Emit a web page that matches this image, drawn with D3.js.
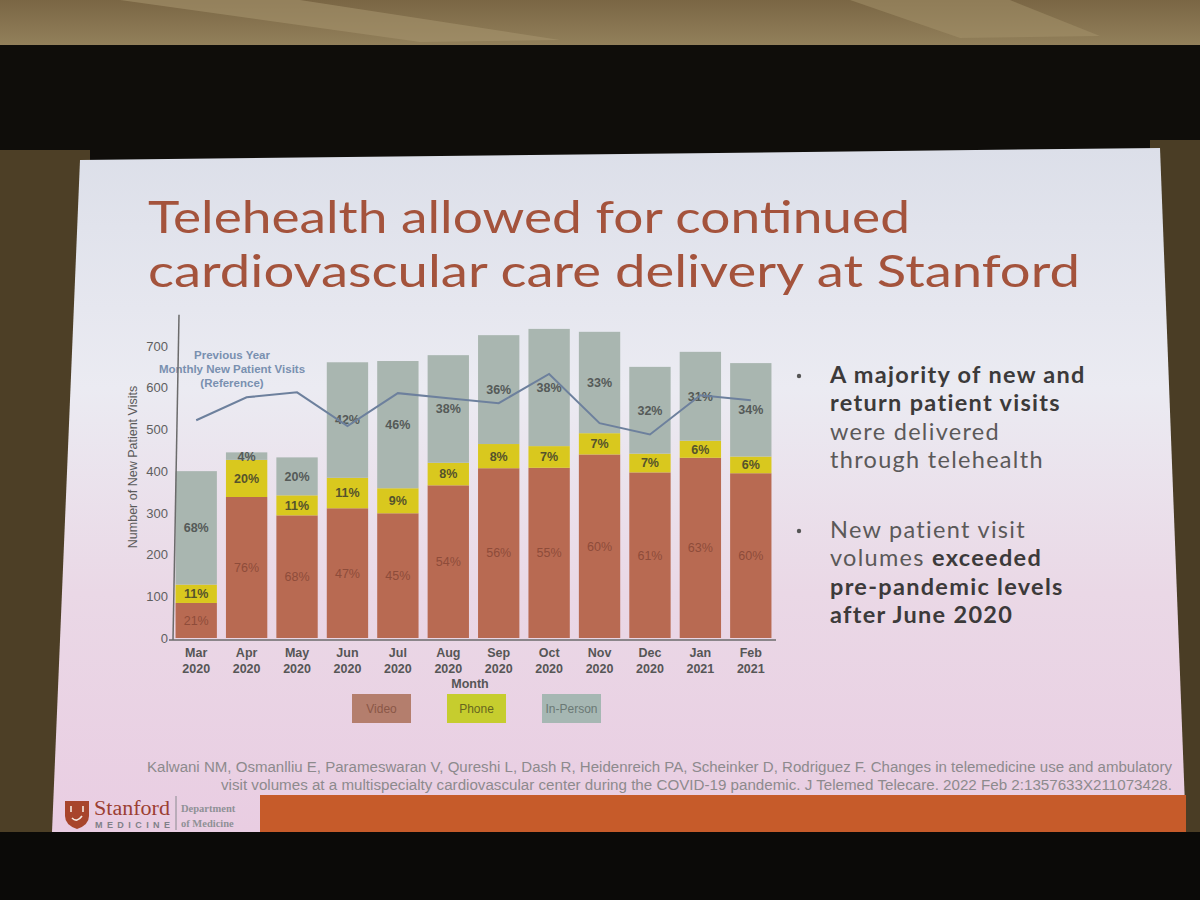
<!DOCTYPE html>
<html lang="en">
<head>
<meta charset="UTF-8">
<title>Telehealth - Stanford cardiovascular visits</title>
<script src="https://d3js.org/d3.v7.min.js"></script>
<style>
    html, body { margin: 0; padding: 0; background: #0b0a08; }
    svg { display: block; }
</style>
</head>
<body>
<svg id="chart" width="1200" height="900"></svg>
<script>
// ---- data ----
const months = ["Mar 2020", "Apr 2020", "May 2020", "Jun 2020", "Jul 2020", "Aug 2020",
                "Sep 2020", "Oct 2020", "Nov 2020", "Dec 2020", "Jan 2021", "Feb 2021"];
const videoVisits    = [84, 338, 294, 311, 299, 366, 407, 408, 440, 397, 432, 395];
const phoneVisits    = [44,  89,  48,  73,  60,  54,  58,  52,  51,  45,  41,  40];
const inPersonVisits = [272, 18,  91, 277, 305, 258, 261, 281, 243, 208, 213, 224];
const videoPct    = ["21%", "76%", "68%", "47%", "45%", "54%", "56%", "55%", "60%", "61%", "63%", "60%"];
const phonePct    = ["11%", "20%", "11%", "11%", "9%", "8%", "8%", "7%", "7%", "7%", "6%", "6%"];
const inPersonPct = ["68%", "4%", "20%", "42%", "46%", "38%", "36%", "38%", "33%", "32%", "31%", "34%"];
const prevYearVisits = [522, 577, 589, 508, 587, 575, 563, 633, 515, 488, 582, 570];
const yTicks = [0, 100, 200, 300, 400, 500, 600, 700];
const seriesNames = ["Video", "Phone", "In-Person"];

const width = 1200, height = 900;
const svg = d3.select("#chart");

// ---- room around the projected slide ----
const defs = svg.append("defs");
const ceil = defs.append("linearGradient").attr("id", "ceil").attr("x1", 0).attr("x2", 0).attr("y1", 0).attr("y2", 1);
ceil.append("stop").attr("offset", "0%").attr("stop-color", "#7a6644");
ceil.append("stop").attr("offset", "100%").attr("stop-color", "#96845e");
svg.append("rect").attr("x", 0).attr("y", 0).attr("width", width).attr("height", 52).attr("fill", "url(#ceil)");
svg.append("polygon").attr("points", "120,0 300,0 560,40 420,42").attr("fill", "#a5936c").attr("opacity", 0.6);
svg.append("polygon").attr("points", "850,0 1010,0 1100,36 960,38").attr("fill", "#a5936c").attr("opacity", 0.5);
svg.append("rect").attr("x", 0).attr("y", 45).attr("width", width).attr("height", 115).attr("fill", "#0f0d0a");
svg.append("rect").attr("x", 0).attr("y", 150).attr("width", 90).attr("height", 690).attr("fill", "#4d3f26");
svg.append("rect").attr("x", 1150).attr("y", 140).attr("width", 50).attr("height", 700).attr("fill", "#4a3d25");
svg.append("rect").attr("x", 0).attr("y", 832).attr("width", width).attr("height", 68).attr("fill", "#0b0a08");

// ---- slide background ----
const slideGrad = defs.append("linearGradient").attr("id", "slide").attr("x1", 0).attr("x2", 0).attr("y1", 0).attr("y2", 1);
slideGrad.append("stop").attr("offset", "0%").attr("stop-color", "#dcdfe9");
slideGrad.append("stop").attr("offset", "35%").attr("stop-color", "#ebebf2");
slideGrad.append("stop").attr("offset", "65%").attr("stop-color", "#ead8e6");
slideGrad.append("stop").attr("offset", "100%").attr("stop-color", "#e9cde2");
svg.append("polygon")
    .attr("points", "80,160 1160,148 1186,832 52,832")
    .attr("fill", "url(#slide)");

// ---- title ----
const title = svg.append("g")
    .attr("font-family", "Lato, 'Open Sans', sans-serif")
    .attr("fill", "#a4533c");
title.append("text").attr("x", 148).attr("y", 233).attr("font-size", 44)
    .attr("textLength", 762).attr("lengthAdjust", "spacingAndGlyphs")
    .text("Telehealth allowed for continued");
title.append("text").attr("x", 148).attr("y", 287).attr("font-size", 44)
    .attr("textLength", 932).attr("lengthAdjust", "spacingAndGlyphs")
    .text("cardiovascular care delivery at Stanford");

// ---- chart scales ----
const x = d3.scaleBand().domain(months).range([171, 776]).paddingInner(0.18).paddingOuter(0.09);
const y = d3.scaleLinear().domain([0, 700]).range([638, 346]);
const colors = d3.scaleOrdinal().domain(seriesNames).range(["#b86a52", "#d9c81e", "#a9b6b0"]);
const labelColors = d3.scaleOrdinal().domain(seriesNames).range(["#8e4c3a", "#55532c", "#555a58"]);

const rows = months.map((m, i) => ({
    month: m,
    "Video": videoVisits[i], "Phone": phoneVisits[i], "In-Person": inPersonVisits[i],
    pct: { "Video": videoPct[i], "Phone": phonePct[i], "In-Person": inPersonPct[i] }
}));
const stacked = d3.stack().keys(seriesNames)(rows);

const chart = svg.append("g");

chart.selectAll("g.layer")
    .data(stacked)
    .join("g")
    .attr("class", "layer")
    .attr("fill", d => colors(d.key))
    .selectAll("rect")
    .data(d => d)
    .join("rect")
    .attr("x", d => x(d.data.month))
    .attr("width", x.bandwidth())
    .attr("y", d => y(d[1]))
    .attr("height", d => y(d[0]) - y(d[1]));

// percentage labels in each segment
stacked.forEach(layer => {
    chart.append("g")
        .attr("font-family", "'Liberation Sans', Arial, sans-serif")
        .attr("font-size", 12.5)
        .attr("font-weight", layer.key === "Video" ? "normal" : "bold")
        .attr("fill", labelColors(layer.key))
        .attr("text-anchor", "middle")
        .selectAll("text")
        .data(layer)
        .join("text")
        .attr("x", d => x(d.data.month) + x.bandwidth() / 2)
        .attr("y", d => (y(d[0]) + y(d[1])) / 2)
        .attr("dy", "0.35em")
        .text(d => d.data.pct[layer.key]);
});

// previous year reference line
const line = d3.line()
    .x((d, i) => x(months[i]) + x.bandwidth() / 2)
    .y(d => y(d));
chart.append("path")
    .datum(prevYearVisits)
    .attr("fill", "none")
    .attr("stroke", "#6d809d")
    .attr("stroke-width", 2)
    .attr("d", line);

const refNote = chart.append("text")
    .attr("font-family", "'Liberation Sans', Arial, sans-serif")
    .attr("font-size", 11.5)
    .attr("font-weight", "bold")
    .attr("fill", "#7990b0")
    .attr("text-anchor", "middle");
["Previous Year", "Monthly New Patient Visits", "(Reference)"].forEach((t, i) => {
    refNote.append("tspan").attr("x", 232).attr("y", 359 + i * 14).text(t);
});

// axes
const axisX = 173;
const yAxis = chart.append("g")
    .attr("transform", `translate(${axisX},0)`)
    .call(d3.axisLeft(y).tickValues(yTicks).tickSize(0).tickPadding(5));
yAxis.select(".domain").remove();
yAxis.selectAll("text")
    .attr("font-family", "'Liberation Sans', Arial, sans-serif")
    .attr("font-size", 13)
    .attr("fill", "#5f5f5f");
chart.append("line").attr("x1", axisX + 6).attr("x2", axisX).attr("y1", y(775)).attr("y2", y(0) + 2)
    .attr("stroke", "#6b6b6b").attr("stroke-width", 1.5);

const xAxis = chart.append("g")
    .attr("transform", `translate(0,${y(0) + 2})`)
    .call(d3.axisBottom(x).tickSize(0).tickPadding(6));
xAxis.select(".domain").attr("d", `M${axisX - 4},0H776`)
    .attr("stroke", "#6b6b6b").attr("stroke-width", 1.5);
xAxis.selectAll(".tick text")
    .attr("font-family", "'Liberation Sans', Arial, sans-serif")
    .attr("font-size", 12.5)
    .attr("font-weight", "bold")
    .attr("fill", "#565656")
    .each(function (d) {
        const parts = d.split(" ");
        const t = d3.select(this).text(null);
        t.append("tspan").attr("x", 0).attr("dy", "0.9em").text(parts[0]);
        t.append("tspan").attr("x", 0).attr("dy", "1.25em").text(parts[1]);
    });

chart.append("text")
    .attr("x", 470).attr("y", 688)
    .attr("text-anchor", "middle")
    .attr("font-family", "'Liberation Sans', Arial, sans-serif")
    .attr("font-size", 12.5).attr("font-weight", "bold").attr("fill", "#565656")
    .text("Month");

chart.append("text")
    .attr("transform", "translate(137,467) rotate(-90)")
    .attr("text-anchor", "middle")
    .attr("font-family", "'Liberation Sans', Arial, sans-serif")
    .attr("font-size", 12.5).attr("fill", "#5a5a5a")
    .text("Number of New Patient Visits");

// legend
const legendColors = d3.scaleOrdinal().domain(seriesNames).range(["#b47e6d", "#c6cd2e", "#a6b7b3"]);
const legendText = d3.scaleOrdinal().domain(seriesNames).range(["#8a5747", "#67661e", "#6b7975"]);
const legend = chart.append("g")
    .selectAll("g")
    .data(seriesNames)
    .join("g")
    .attr("transform", (d, i) => `translate(${352 + i * 95},694)`);
legend.append("rect").attr("width", 59).attr("height", 29).attr("fill", d => legendColors(d));
legend.append("text")
    .attr("x", 29.5).attr("y", 15).attr("dy", "0.35em")
    .attr("text-anchor", "middle")
    .attr("font-family", "'Liberation Sans', Arial, sans-serif")
    .attr("font-size", 12)
    .attr("fill", d => legendText(d))
    .text(d => d);

// ---- bullet points ----
const bullets = [
    [[["A majority of new and", true]], [["return patient visits", true]], [["were delivered", false]], [["through telehealth", false]]],
    [[["New patient visit", false]], [["volumes ", false], ["exceeded", true]], [["pre-pandemic levels", true]], [["after June 2020", true]]]
];
const bulletTop = [383, 538];
const bulletG = svg.append("g")
    .attr("font-family", "Lato, 'Open Sans', sans-serif")
    .attr("font-size", 23.5)
    .attr("letter-spacing", 1.3);
bullets.forEach((lines, b) => {
    bulletG.append("circle").attr("cx", 799).attr("cy", bulletTop[b] - 7).attr("r", 2.2).attr("fill", "#555");
    lines.forEach((segs, li) => {
        const t = bulletG.append("text").attr("x", 830).attr("y", bulletTop[b] + li * 28.3);
        segs.forEach(([s, bold]) => {
            t.append("tspan")
                .attr("font-weight", bold ? "bold" : "normal")
                .attr("fill", bold ? "#3c3a3a" : "#5b5959")
                .text(s);
        });
    });
});

// ---- citation ----
const cite = svg.append("g")
    .attr("font-family", "'Liberation Sans Narrow', 'Liberation Sans', sans-serif")
    .attr("font-size", 14).attr("fill", "#8d8a8d");
cite.append("text").attr("x", 147).attr("y", 772).attr("textLength", 1025).attr("lengthAdjust", "spacingAndGlyphs")
    .text("Kalwani NM, Osmanlliu E, Parameswaran V, Qureshi L, Dash R, Heidenreich PA, Scheinker D, Rodriguez F. Changes in telemedicine use and ambulatory");
cite.append("text").attr("x", 221).attr("y", 790).attr("textLength", 951).attr("lengthAdjust", "spacingAndGlyphs")
    .text("visit volumes at a multispecialty cardiovascular center during the COVID-19 pandemic. J Telemed Telecare. 2022 Feb 2:1357633X211073428.");

// ---- footer: logo + orange band ----
svg.append("rect").attr("x", 260).attr("y", 795).attr("width", 926).attr("height", 37).attr("fill", "#c65b2a");
svg.append("path")
    .attr("d", "M65,801 H89 V816 Q89,825 77,829 Q65,825 65,816 Z")
    .attr("fill", "#a8452c");
svg.append("path")
    .attr("d", "M71,806 v6 M83,806 v6 M72,818 q5,5 10,-2")
    .attr("stroke", "#f4e8e0").attr("stroke-width", 1.6).attr("fill", "none");
svg.append("text").attr("x", 94).attr("y", 815)
    .attr("font-family", "'Liberation Serif', 'DejaVu Serif', serif")
    .attr("font-size", 20).attr("fill", "#9c3f33")
    .attr("textLength", 76).attr("lengthAdjust", "spacingAndGlyphs")
    .text("Stanford");
svg.append("text").attr("x", 95).attr("y", 828)
    .attr("font-family", "'Liberation Sans', sans-serif")
    .attr("font-size", 9).attr("font-weight", "bold").attr("fill", "#7f8088")
    .attr("textLength", 75).attr("lengthAdjust", "spacing")
    .text("MEDICINE");
svg.append("line").attr("x1", 176).attr("x2", 176).attr("y1", 796).attr("y2", 830)
    .attr("stroke", "#8a8a90").attr("stroke-width", 1);
const dept = svg.append("text")
    .attr("font-family", "'Liberation Serif', serif")
    .attr("font-size", 10.5).attr("font-weight", "bold").attr("fill", "#8f9196");
dept.append("tspan").attr("x", 181).attr("y", 812).text("Department");
dept.append("tspan").attr("x", 181).attr("y", 827).text("of Medicine");
</script>
</body>
</html>
